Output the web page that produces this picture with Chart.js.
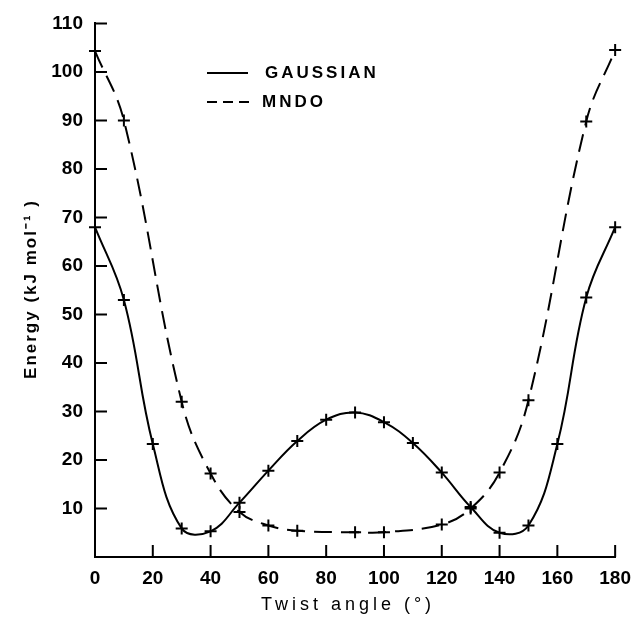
<!DOCTYPE html>
<html>
<head>
<meta charset="utf-8">
<script src="https://cdn.jsdelivr.net/npm/chart.js@4/dist/chart.umd.min.js"></script>
<style>
  body { margin: 0; background: #fff; }
  #wrap { width: 641px; height: 618px; }
</style>
</head>
<body>
<div id="wrap"><canvas id="chart" width="641" height="618"></canvas></div>
<script>
// Data
const angleGaussian = [0, 10, 20, 30, 40, 50, 60, 70, 80, 90, 100, 110, 120, 130, 140, 150, 160, 170, 180];
const energyGaussian = [68, 53, 23.3, 5.9, 5.3, 11.2, 17.8, 23.9, 28.3, 29.8, 27.8, 23.5, 17.4, 10.3, 5, 6.5, 23.3, 53.5, 68];

const angleMndo = [0, 10, 30, 40, 50, 60, 70, 90, 100, 120, 130, 140, 150, 170, 180];
const energyMndo = [104.3, 90, 32, 17.2, 9.3, 6.5, 5.4, 5.1, 5.1, 6.7, 10, 17.4, 32.3, 89.8, 104.5];

const xTicks = [0, 20, 40, 60, 80, 100, 120, 140, 160, 180];
const yTicks = [0, 10, 20, 30, 40, 50, 60, 70, 80, 90, 100, 110];

const FONT = 'Liberation Sans';

function toPoints(xs, ys) {
    return xs.map((x, i) => ({ x: x, y: ys[i] }));
}

// Inward tick marks, spaced axis titles, legend inside the plot
const extrasPlugin = {
    id: 'extras',
    afterDraw(chart) {
        const ctx = chart.ctx;
        const xs = chart.scales.x, ys = chart.scales.y;
        const area = chart.chartArea;
        ctx.save();
        ctx.strokeStyle = '#000';
        ctx.lineWidth = 2;
        ctx.beginPath();
        xTicks.forEach(v => {
            if (v === 0) return;
            const px = xs.getPixelForValue(v);
            ctx.moveTo(px, area.bottom);
            ctx.lineTo(px, area.bottom - 12);
        });
        yTicks.forEach(v => {
            if (v === 0) return;
            const py = ys.getPixelForValue(v);
            ctx.moveTo(area.left, py);
            ctx.lineTo(area.left + 12, py);
        });
        ctx.stroke();

        // legend
        ctx.beginPath();
        ctx.moveTo(207, 73);
        ctx.lineTo(248, 73);
        ctx.stroke();
        ctx.setLineDash([10, 6]);
        ctx.beginPath();
        ctx.moveTo(207, 102);
        ctx.lineTo(252, 102);
        ctx.stroke();
        ctx.setLineDash([]);
        ctx.fillStyle = '#000';
        ctx.font = 'bold 17px "' + FONT + '"';
        ctx.textBaseline = 'middle';
        ctx.textAlign = 'left';
        ctx.letterSpacing = '3px';
        ctx.fillText('GAUSSIAN', 265, 73);
        ctx.fillText('MNDO', 262, 102);

        // axis titles
        ctx.textAlign = 'center';
        ctx.font = '18px "' + FONT + '"';
        ctx.letterSpacing = '4px';
        ctx.fillText('Twist angle (°)', 348, 605);
        ctx.translate(31, 289);
        ctx.rotate(-Math.PI / 2);
        ctx.font = 'bold 17px "' + FONT + '"';
        ctx.letterSpacing = '2px';
        ctx.fillText('Energy (kJ mol⁻¹ )', 0, 0);
        ctx.restore();
    }
};

new Chart(document.getElementById('chart'), {
    type: 'line',
    data: {
        datasets: [
            {
                label: 'GAUSSIAN',
                data: toPoints(angleGaussian, energyGaussian),
                borderColor: '#000',
                borderWidth: 2,
                tension: 0.4,
                pointStyle: 'cross',
                pointRadius: 6,
                pointBorderWidth: 2,
                pointBorderColor: '#000',
                clip: false
            },
            {
                label: 'MNDO',
                data: toPoints(angleMndo, energyMndo),
                borderColor: '#000',
                borderWidth: 2,
                borderDash: [18, 9],
                tension: 0.4,
                pointStyle: 'cross',
                pointRadius: 6,
                pointBorderWidth: 2,
                pointBorderColor: '#000',
                clip: false
            }
        ]
    },
    options: {
        responsive: false,
        animation: false,
        layout: { padding: { top: 19, right: 22, left: 0, bottom: 0 } },
        plugins: { legend: { display: false }, tooltip: { enabled: false } },
        scales: {
            x: {
                type: 'linear',
                min: 0,
                max: 180,
                afterFit: s => { s.height = 61; },
                afterBuildTicks: s => { s.ticks = xTicks.map(v => ({ value: v })); },
                grid: { drawOnChartArea: false, drawTicks: false },
                border: { display: true, color: '#000', width: 2 },
                ticks: { color: '#000', padding: 10, maxRotation: 0, font: { family: FONT, size: 19, weight: 'bold' } }
            },
            y: {
                type: 'linear',
                min: 0,
                max: 110,
                afterFit: s => { s.width = 95; },
                afterBuildTicks: s => { s.ticks = yTicks.map(v => ({ value: v })); },
                grid: { drawOnChartArea: false, drawTicks: false },
                border: { display: true, color: '#000', width: 2 },
                ticks: {
                    color: '#000',
                    padding: 12,
                    font: { family: FONT, size: 19, weight: 'bold' },
                    callback: v => (v === 0 ? '' : v)
                }
            }
        }
    },
    plugins: [extrasPlugin]
});
</script>
</body>
</html>
